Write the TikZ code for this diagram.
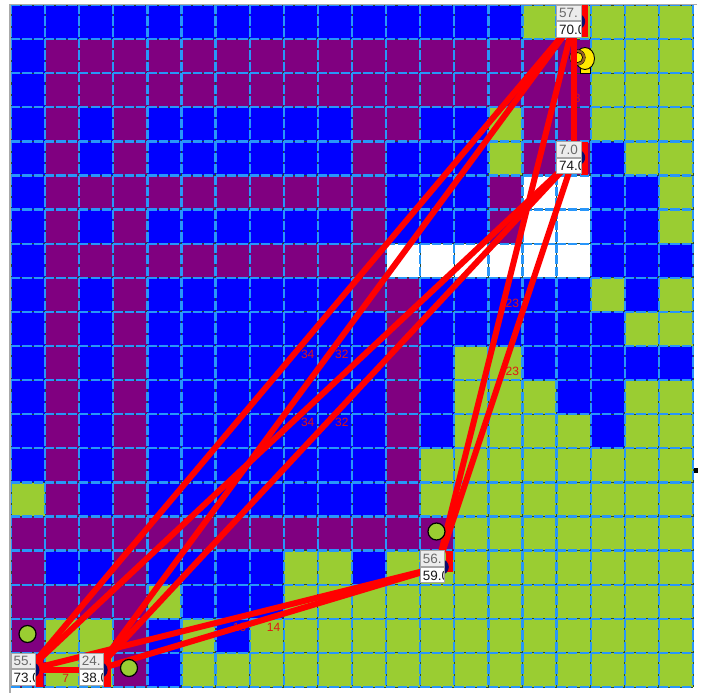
\documentclass[tikz,border=0pt]{standalone}
\usepackage{fontspec}
\setmainfont{Liberation Sans}
\definecolor{cellB}{RGB}{0,0,255}
\definecolor{cellP}{RGB}{128,0,128}
\definecolor{cellG}{RGB}{154,205,50}
\definecolor{cellW}{RGB}{255,255,255}
\definecolor{gridblue}{RGB}{40,150,250}
\definecolor{griddark}{RGB}{35,75,55}
\definecolor{linkred}{RGB}{255,0,0}
\definecolor{lblred}{RGB}{225,20,20}
\definecolor{agentnavy}{RGB}{10,10,110}
\definecolor{boxgray}{RGB}{236,236,236}
\definecolor{boxline}{RGB}{165,165,165}
\definecolor{toptextgray}{RGB}{105,105,105}
\definecolor{botttext}{RGB}{25,25,25}
\definecolor{icony}{RGB}{255,232,0}
\definecolor{iconbrown}{RGB}{150,95,40}
\definecolor{framegray}{RGB}{170,170,170}
\tikzset{
  link/.style={draw=linkred, line width=6pt},
  linklabel/.style={text=lblred, font=\fontsize{12}{12}\selectfont, anchor=west, inner sep=0pt, pos=0.5, yshift=-8.5pt},
  pebble/.style={circle, fill=cellG, draw=black, line width=1.2pt, minimum size=17pt, inner sep=0pt},
  toptext/.style={anchor=base west, inner sep=0pt, text=toptextgray, font=\fontsize{13.5}{14}\selectfont},
  bottext/.style={anchor=base west, inner sep=0pt, text=botttext, font=\fontsize{13.5}{14}\selectfont},
  boxborder/.style={draw=boxline, line width=0.8pt},
}
\newcommand{\mkagentlabel}[5]{%
  \fill[boxgray] (#2,#3) rectangle ++(24.5,15.5);
  \draw[boxborder] (#2,#3) rectangle ++(24.5,15.5);
  \node[toptext] (#1t) at (#2+2.4,#3+12.6) {#4};
  \fill[white] (#2,#3+16.7) rectangle ++(24.5,15.5);
  \begin{scope}
    \clip (#2,#3+16.7) rectangle ++(24.5,15.5);
    \node[bottext] (#1b) at (#2+2.4,#3+29.4) {#5};
  \end{scope}
  \draw[boxborder] (#2,#3+16.7) rectangle ++(24.5,15.5);
}
\begin{document}
\begin{tikzpicture}[x=1pt,y=-1pt]
\useasboundingbox (0,0) rectangle (705,693);
\fill[white] (0,0) rectangle (705,693);
% cells
\foreach \rowcells [count=\r from 0] in {
 {B,B,B,B,B,B,B,B,B,B,B,B,B,B,B,G,G,G,G,G},
 {B,P,P,P,P,P,P,P,P,P,P,P,P,P,P,P,P,G,G,G},
 {B,P,P,P,P,P,P,P,P,P,P,P,P,P,P,P,P,G,G,G},
 {B,P,B,P,B,B,B,B,B,B,P,P,B,B,G,P,P,G,G,G},
 {B,P,B,P,B,B,B,B,B,B,P,B,B,B,G,P,P,B,G,G},
 {B,P,P,P,P,P,P,P,P,P,P,B,B,B,P,W,W,B,B,G},
 {B,P,B,P,B,B,B,B,B,B,P,B,B,B,P,W,W,B,B,G},
 {B,P,P,P,P,P,P,P,P,P,P,W,W,W,W,W,W,B,B,B},
 {B,P,B,P,B,B,B,B,B,B,P,P,B,B,B,B,B,G,B,G},
 {B,P,B,P,B,B,B,B,B,B,B,P,B,B,B,B,B,B,G,G},
 {B,P,B,P,B,B,B,B,B,B,B,P,B,G,G,B,B,B,B,B},
 {B,P,B,P,B,B,B,B,B,B,B,P,B,G,G,G,B,B,G,G},
 {B,P,B,P,B,B,B,B,B,B,B,P,B,G,G,G,G,B,G,G},
 {B,P,B,P,B,B,B,B,B,B,B,P,G,G,G,G,G,G,G,G},
 {G,P,B,P,B,B,B,B,B,B,B,P,G,G,G,G,G,G,G,G},
 {P,P,P,P,P,P,P,P,P,P,P,P,P,G,G,G,G,G,G,G},
 {P,B,B,P,B,B,B,B,G,G,B,G,G,G,G,G,G,G,G,G},
 {P,P,P,P,G,B,B,B,G,G,G,G,G,G,G,G,G,G,G,G},
 {P,G,G,P,B,G,B,G,G,G,G,G,G,G,G,G,G,G,G,G},
 {P,G,G,P,B,G,G,G,G,G,G,G,G,G,G,G,G,G,G,G}}{
  \foreach \c [count=\k from 0] in \rowcells {
    \fill[fill=cell\c] (11+34.1*\k,5+34.1*\r) rectangle ++(34.1,34.1);
  }
}
% grid
\foreach \i in {0,...,20} {
  \draw[griddark, line width=0.9pt] (11+34.1*\i,5) -- (11+34.1*\i,687);
  \draw[griddark, line width=0.9pt] (11,5+34.1*\i) -- (693,5+34.1*\i);
}
\foreach \i in {0,...,20} {
  \draw[gridblue, line width=2.3pt, dash pattern=on 9.2pt off 2.17pt] (11+34.1*\i,5) -- (11+34.1*\i,687);
  \draw[gridblue, line width=2.3pt, dash pattern=on 9.2pt off 2.17pt] (11,5+34.1*\i) -- (693,5+34.1*\i);
}
% frame
\draw[framegray, line width=1.2pt] (10,693) -- (10,4.5) -- (697,4.5);
\fill[black] (694,467.5) rectangle (697.5,472.5);
% yellow icon
\draw[black, line width=0.8pt, fill=icony] (580,67.5) rectangle (590,73);
\draw[black, line width=0.9pt, fill=icony] (585,58.5) ellipse [x radius=9.5, y radius=11];
\draw[black, line width=0.7pt] (577.5,57.5) circle[radius=7.7];
\draw[iconbrown, line width=2.4pt] (577.5,57.5) circle[radius=6.4];
\draw[black, line width=0.7pt] (577.5,57.5) circle[radius=5.1];
% agents (link end points)
\coordinate (A) at (573.65,22.05);
\coordinate (B) at (573.65,158.45);
\coordinate (C) at (437.25,567.65);
\coordinate (D) at (28.05,669.95);
\coordinate (E) at (96.25,669.95);
% link labels
\path (D) -- node[linklabel] (lDA) {34} (A);
\path (E) -- node[linklabel] (lEA) {32} (A);
\path (D) -- node[linklabel] (lDB) {34} (B);
\path (E) -- node[linklabel] (lEB) {32} (B);
\path (C) -- node[linklabel] (lCA) {23} (A);
\path (C) -- node[linklabel] (lCB) {23} (B);
\path (A) -- node[linklabel] (lAB) {8} (B);
\path (D) -- node[linklabel] (lDC) {10} (C);
\path (E) -- node[linklabel] (lEC) {14} (C);
\path (D) -- node[linklabel] (lDE) {7} (E);
% links
\draw[link] (D) -- (A);
\draw[link] (E) -- (A);
\draw[link] (D) -- (B);
\draw[link] (E) -- (B);
\draw[link] (C) -- (A);
\draw[link] (C) -- (B);
\draw[link] (A) -- (B);
\draw[link] (D) -- (C);
\draw[link] (E) -- (C);
\draw[link] (D) -- (E);
% green pebbles
\node[pebble] (g1) at (27.5,634) {};
\node[pebble] (g2) at (129,668) {};
\node[pebble] (g3) at (436.5,531.5) {};
% red bars beside labels
\fill[linkred] (581.1,5) rectangle (588,37);
\fill[linkred] (581.1,141.5) rectangle (588,174.5);
\fill[linkred] (446,551) rectangle (452.5,572);
\fill[linkred] (35.5,659) rectangle (42.5,687);
\fill[linkred] (103.7,659) rectangle (110.7,687);
% agent circles
\fill[agentnavy] (577.2,21.5) circle[radius=8];
\fill[agentnavy] (577.2,157.5) circle[radius=8];
\fill[agentnavy] (440.8,567) circle[radius=8];
\fill[agentnavy] (31.5,670) circle[radius=8];
\fill[agentnavy] (99.7,670) circle[radius=8];
% agent labels
\mkagentlabel{nA}{556.6}{5}{57.}{70.0}
\mkagentlabel{nB}{556.6}{141.4}{7.0}{74.0}
\mkagentlabel{nC}{420.2}{550.6}{56.}{59.0}
\mkagentlabel{nD}{11}{652.9}{55.}{73.0}
\mkagentlabel{nE}{79.2}{652.9}{24.}{38.0}
\end{tikzpicture}
\end{document}
